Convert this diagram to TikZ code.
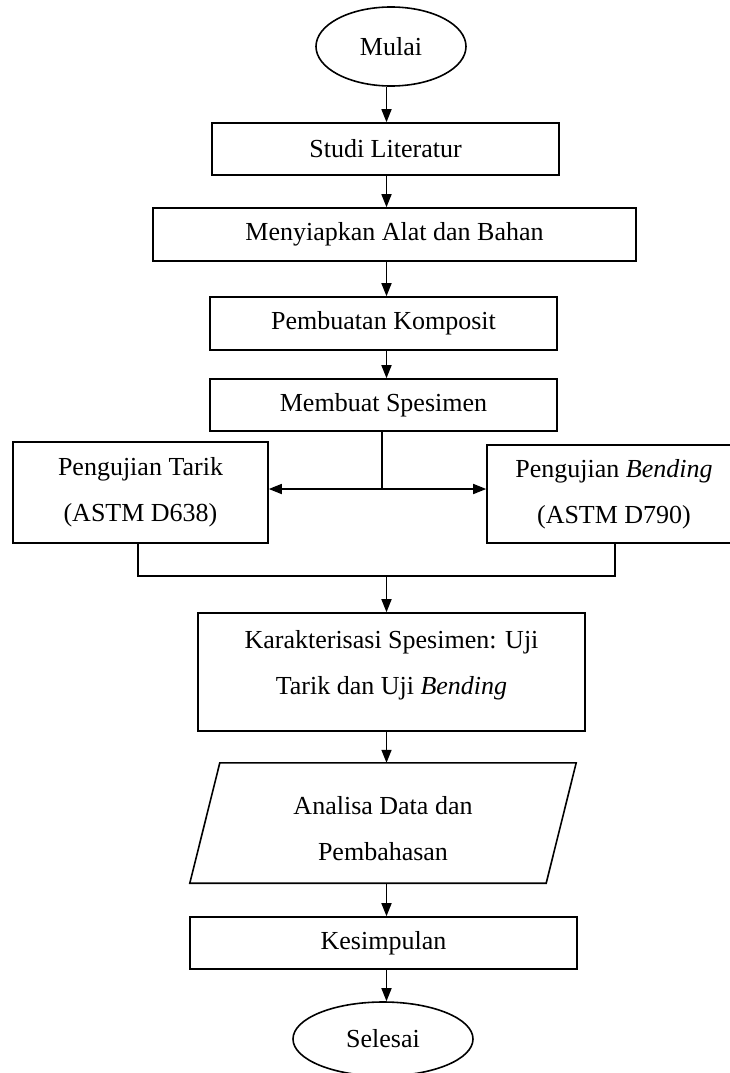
\documentclass[tikz,border=0pt]{standalone}
\usepackage{fontspec}
\setmainfont{Liberation Serif}
\usetikzlibrary{arrows.meta,shapes.geometric,calc}
\begin{document}
\begin{tikzpicture}[x=1pt,y=-1pt,
  every node/.style={font=\fontsize{26}{46}\selectfont},
  box/.style={draw, line width=1.6pt, rectangle, inner sep=0pt, align=center},
  term/.style={draw, line width=1.6pt, ellipse, inner sep=0pt},
  iobox/.style={draw=none, rectangle, inner sep=0pt},
  arr/.style={line width=1.6pt, -{Triangle[length=13pt,width=10pt]}},
  ln/.style={line width=1.6pt},
  txt/.style={align=center, inner sep=0pt}]
\useasboundingbox (0,0) rectangle (730,1073);
\fill[white] (0,0) rectangle (730,1073);

\node[term, minimum width=150pt, minimum height=79pt] (mulai) at (391,46.5) {Mulai};
\node[box, minimum width=347pt, minimum height=52pt] (studi) at (385.5,149) {Studi Literatur};
\node[box, minimum width=483pt, minimum height=53pt] (siap) at (394.5,234.5) {Menyiapkan Alat dan Bahan};
\node[box, minimum width=347pt, minimum height=53pt] (buat) at (383.5,323.5) {Pembuatan Komposit};
\node[box, minimum width=347pt, minimum height=52pt] (spes) at (383.5,405) {Membuat Spesimen};
\node[box, minimum width=255pt, minimum height=101pt] (tarik) at (140.5,492.5) {Pengujian Tarik\\(ASTM D638)};
\node[box, minimum width=254pt, minimum height=98pt] (bend) at (614,494) {Pengujian \textit{Bending}\\(ASTM D790)};
\node[box, minimum width=387pt, minimum height=118pt] (karak) at (391.5,672) {};
\node[txt, yshift=7pt] (karaktxt) at (karak.center) {Karakterisasi Spesimen: Uji\\Tarik dan Uji \textit{Bending}};
\node[iobox, minimum width=356pt, minimum height=120pt] (anal) at (383,823) {};
\draw[line width=1.6pt, line join=miter] ($(anal.north west)+(15,0)$) -- ($(anal.north east)+(15,0)$)
  -- ($(anal.south east)+(-15,0)$) -- ($(anal.south west)+(-15,0)$) -- cycle;
\node[txt, yshift=-6pt] (analtxt) at (anal.center) {Analisa Data dan\\Pembahasan};
\node[box, minimum width=387pt, minimum height=52pt] (kesim) at (383.5,943) {Kesimpulan};
\node[term, minimum width=180pt, minimum height=74pt] (selesai) at (383,1039) {Selesai};

\coordinate (ax) at (386.5,0);
\coordinate (split) at (382,489);
\coordinate (tl) at (138,0);
\coordinate (bl) at (615,0);
\coordinate (join) at (386.5,576);

\draw[arr] (mulai.south -| ax) -- (studi.north -| ax);
\draw[arr] (studi.south -| ax) -- (siap.north -| ax);
\draw[arr] (siap.south -| ax) -- (buat.north -| ax);
\draw[arr] (buat.south -| ax) -- (spes.north -| ax);
\draw[ln] (spes.south -| split) -- (split);
\draw[arr] (split) -- (tarik.east |- split);
\draw[arr] (split) -- (bend.west |- split);
\draw[ln] (tarik.south -| tl) |- (join -| bl) -- (bend.south -| bl);
\draw[arr] (join) -- (karak.north -| ax);
\draw[arr] (karak.south -| ax) -- (anal.north -| ax);
\draw[arr] (anal.south -| ax) -- (kesim.north -| ax);
\draw[arr] (kesim.south -| ax) -- (selesai.north -| ax);
\end{tikzpicture}
\end{document}
